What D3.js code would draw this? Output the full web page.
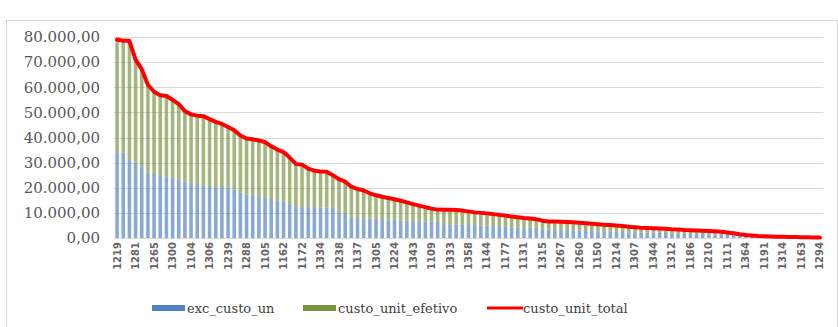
<!DOCTYPE html>
<html>
<head>
<meta charset="utf-8">
<script src="https://cdn.jsdelivr.net/npm/d3@7"></script>
<style>
  html, body { margin: 0; padding: 0; background: #fff; }
  svg { display: block; }
</style>
</head>
<body>
<svg id="chart" width="838" height="327"></svg>
<script>
// Unit cost per item, sorted by total unit cost (descending)
const totalCost = [
  79000, 78500, 78500, 71000, 67200, 61000, 58200, 56800, 56500, 55000,
  53300, 50500, 49200, 48700, 48500, 47300, 46200, 45400, 44200, 42900,
  40800, 39600, 39300, 38800, 38200, 36500, 35200, 34200, 32000, 29500,
  29200, 27600, 26800, 26500, 26400, 25000, 23400, 22400, 20400, 19500,
  18900, 17800, 17000, 16400, 15900, 15400, 14800, 14200, 13500, 12900,
  12300, 11700, 11300, 11200, 11200, 11100, 10900, 10600, 10200, 10000,
  9800, 9500, 9200, 8900, 8600, 8300, 8000, 7800, 7500, 6900,
  6600, 6600, 6500, 6400, 6300, 6100, 5900, 5700, 5500, 5300,
  5200, 5000, 4800, 4500, 4300, 4100, 4000, 3900, 3800, 3700,
  3500, 3400, 3200, 3100, 3000, 2900, 2800, 2700, 2500, 2200,
  1900, 1500, 1200, 1000, 800, 700, 600, 500, 450, 400,
  350, 300, 250, 200, 150
];

// Excess portion of the unit cost (lower stacked segment)
const excCost = [
  34100, 34000, 31000, 29900, 28500, 26000, 25500, 25000, 24200, 23900,
  23300, 22500, 22000, 21500, 21000, 20800, 20500, 20300, 20000, 19200,
  18000, 17200, 17000, 16500, 16000, 15500, 15000, 14500, 13500, 12500,
  12300, 12300, 12300, 12200, 12100, 12000, 10000, 9900, 8000, 7900,
  7800, 7700, 7600, 7500, 7400, 7300, 7000, 6900, 6800, 6700,
  6600, 6500, 6500, 5500, 5400, 5300, 5300, 5200, 5200, 5000,
  4900, 4800, 4700, 4600, 4300, 4200, 4100, 4100, 4000, 3500,
  3400, 3300, 3300, 3200, 3000, 2900, 2800, 2800, 2700, 2600,
  2600, 2500, 2400, 2300, 2300, 2200, 2200, 2100, 2100, 2000,
  1900, 1800, 1800, 1700, 1600, 1600, 1500, 1400, 1400, 1300,
  1000, 900, 800, 700, 600, 500, 450, 400, 350, 300,
  250, 200, 180, 150, 100
];

// Effective unit cost = total - excess (upper stacked segment)
const effCost = totalCost.map((t, i) => t - excCost[i]);

// Item codes shown on the axis (every third item)
const tickLabels = [
  "1219", "1281", "1265", "1300", "1104", "1306", "1239", "1288", "1105", "1162",
  "1172", "1334", "1238", "1137", "1305", "1224", "1343", "1109", "1333", "1358",
  "1144", "1177", "1131", "1315", "1267", "1260", "1150", "1214", "1307", "1344",
  "1312", "1186", "1210", "1111", "1364", "1191", "1314", "1163", "1294"
];
const tickEvery = 3;

const yTicks = [0, 10000, 20000, 30000, 40000, 50000, 60000, 70000, 80000];
const seriesNames = ["exc_custo_un", "custo_unit_efetivo", "custo_unit_total"];
const colors = { exc: "#4f81bd", eff: "#77933c", total: "#ff0000" };

const svg = d3.select("#chart");
const W = 838, H = 327;
const plot = { left: 114, right: 823, top: 37, bottom: 238 };

// chart frame
svg.append("rect")
  .attr("x", 6.5).attr("y", 20.5)
  .attr("width", W - 7).attr("height", H - 20)
  .attr("fill", "#fff").attr("stroke", "#d9d9d9").attr("stroke-width", 1);

const idx = d3.range(totalCost.length);
const x = d3.scaleBand().domain(idx).range([plot.left, plot.right]).paddingInner(0.42).paddingOuter(0.21);
const y = d3.scaleLinear().domain([0, 80000]).range([plot.bottom, plot.top]);

const fmt = v => d3.formatLocale({ decimal: ",", thousands: ".", grouping: [3], currency: ["", ""] }).format(",.2f")(v);

// horizontal gridlines
svg.append("g")
  .selectAll("line").data(yTicks).join("line")
  .attr("x1", plot.left).attr("x2", plot.right)
  .attr("y1", d => Math.round(y(d)) + 0.5).attr("y2", d => Math.round(y(d)) + 0.5)
  .attr("stroke", "#d9d9d9").attr("stroke-width", 1);

// y axis labels
const yAxis = d3.axisLeft(y).tickValues(yTicks).tickFormat(fmt).tickSize(0).tickPadding(0);
const gy = svg.append("g").attr("transform", `translate(100,0)`).call(yAxis);
gy.select(".domain").remove();
gy.selectAll("text")
  .attr("font-family", "'DejaVu Serif', serif")
  .attr("font-size", 15)
  .attr("fill", "#595959");

// stacked bars
const stacked = d3.stack().keys(["exc", "eff"])(idx.map(i => ({ exc: excCost[i], eff: effCost[i] })));
const barColors = [colors.exc, colors.eff];
svg.append("g").selectAll("g").data(stacked).join("g")
  .attr("fill", (d, k) => barColors[k])
  .attr("fill-opacity", 0.68)
  .selectAll("rect").data(d => d).join("rect")
  .attr("x", (d, i) => x(i))
  .attr("width", x.bandwidth())
  .attr("y", d => y(d[1]))
  .attr("height", d => y(d[0]) - y(d[1]));

// x axis labels (every third item)
const xAxis = d3.axisBottom(x)
  .tickValues(idx.filter(i => i % tickEvery === 0))
  .tickFormat(i => tickLabels[i / tickEvery])
  .tickSize(0).tickPadding(0);
const gx = svg.append("g").attr("transform", `translate(0,${plot.bottom})`).call(xAxis);
gx.select(".domain").attr("stroke", "#d9d9d9");
gx.selectAll("text")
  .attr("font-family", "'DejaVu Sans', sans-serif")
  .attr("font-size", 10)
  .attr("font-weight", "bold")
  .attr("fill", "#666")
  .attr("text-anchor", "end")
  .attr("dy", "0.35em")
  .attr("transform", "translate(0,4) rotate(-90)");

// total cost line
const line = d3.line().x((d, i) => x(i) + x.bandwidth() / 2).y(d => y(d));
svg.append("path")
  .datum(totalCost)
  .attr("d", line)
  .attr("fill", "none")
  .attr("stroke", colors.total)
  .attr("stroke-width", 4)
  .attr("stroke-linejoin", "round")
  .attr("stroke-linecap", "round");

// legend
const legend = svg.append("g").attr("font-family", "'DejaVu Serif', serif").attr("font-size", 13).attr("fill", "#404040");
const legendItems = [
  { name: seriesNames[0], color: colors.exc, type: "rect", x: 152 },
  { name: seriesNames[1], color: colors.eff, type: "rect", x: 303 },
  { name: seriesNames[2], color: colors.total, type: "line", x: 487 }
];
const ly = 308;
legendItems.forEach(it => {
  if (it.type === "rect") {
    legend.append("rect").attr("x", it.x).attr("y", ly - 3).attr("width", 33).attr("height", 6).attr("fill", it.color);
  } else {
    legend.append("line").attr("x1", it.x).attr("x2", it.x + 36).attr("y1", ly).attr("y2", ly)
      .attr("stroke", it.color).attr("stroke-width", 3);
  }
  legend.append("text").attr("x", it.x + (it.type === "rect" ? 35 : 36)).attr("y", ly).attr("dy", "0.35em").text(it.name);
});
</script>
</body>
</html>
